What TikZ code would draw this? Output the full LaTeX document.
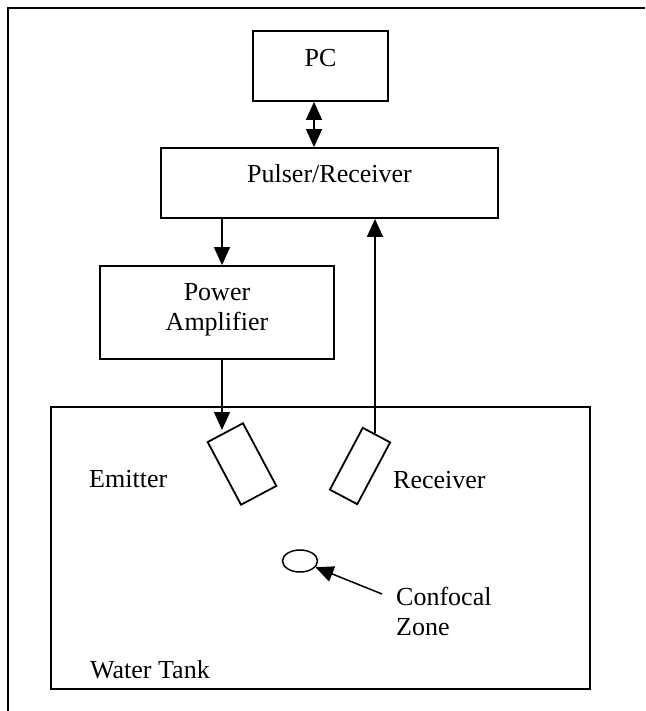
\documentclass[tikz,border=0pt]{standalone}
\usepackage{fontspec}
\setmainfont{Liberation Serif}
\usetikzlibrary{arrows.meta,shapes.geometric}
\begin{document}
\begin{tikzpicture}[x=1pt,y=-1pt,
  box/.style={draw,line width=1.8pt,inner sep=0pt},
  lbl/.style={inner sep=0pt,anchor=base,font=\fontsize{26}{30}\selectfont},
  lblw/.style={inner sep=0pt,anchor=base west,font=\fontsize{26}{30}\selectfont},
  conn/.style={line width=1.5pt},
  tip/.style={-{Triangle[length=18pt,width=16pt]}},
  dtip/.style={{Triangle[length=18pt,width=16pt]}-{Triangle[length=18pt,width=16pt]}}]
\useasboundingbox (0,0) rectangle (645,711);
\fill[white] (0,0) rectangle (645,711);
% outer frame (runs off the page to the right and bottom)
\draw[line width=1.8pt] (8,711) -- (8,8) -- (645,8);

% instrument boxes
\node[box,minimum width=135pt,minimum height=70pt] (pc) at (320.5,66) {};
\node[lbl] at (320.5,67) {PC};
\node[box,minimum width=337pt,minimum height=70pt] (pr) at (329.5,183) {};
\node[lbl] at (329.5,183) {Pulser/Receiver};
\node[box,minimum width=234pt,minimum height=93pt] (pa) at (217,312.5) {};
\node[lbl] at (217,300) {Power};
\node[lbl] at (217,330) {Amplifier};

% water tank
\node[box,minimum width=539pt,minimum height=282pt] (tank) at (320.5,548) {};
\node[lblw] at (90,678) {Water Tank};

% transducers
\node[box,minimum width=40pt,minimum height=71pt,rotate=28] (em) at (242,464) {};
\node[box,minimum width=31pt,minimum height=70pt,rotate=-28] (rx) at (360,466) {};
\node[lblw] at (89,487) {Emitter};
\node[lblw] at (393,488) {Receiver};

% confocal zone
\node[draw,ellipse,line width=1.5pt,minimum width=35pt,minimum height=22pt,inner sep=0pt] (cz) at (300,561) {};
\node[lblw] at (396,605) {Confocal};
\node[lblw] at (396,635) {Zone};

% connector end points
\coordinate (dx) at (314,0);
\coordinate (emtip) at (222,430);
\coordinate (rxtop) at (375,433);
\coordinate (czlead) at (382,594);

% signal paths
\draw[conn,dtip] (pc.south -| dx) -- (pr.north -| dx);
\draw[conn,tip] (pr.south -| emtip) -- (pa.north -| emtip);
\draw[conn,tip] (pa.south -| emtip) -- (emtip);
\draw[conn,tip] (rxtop) -- (rxtop |- pr.south);
\draw[conn,tip] (czlead) -- (cz);
\end{tikzpicture}
\end{document}
